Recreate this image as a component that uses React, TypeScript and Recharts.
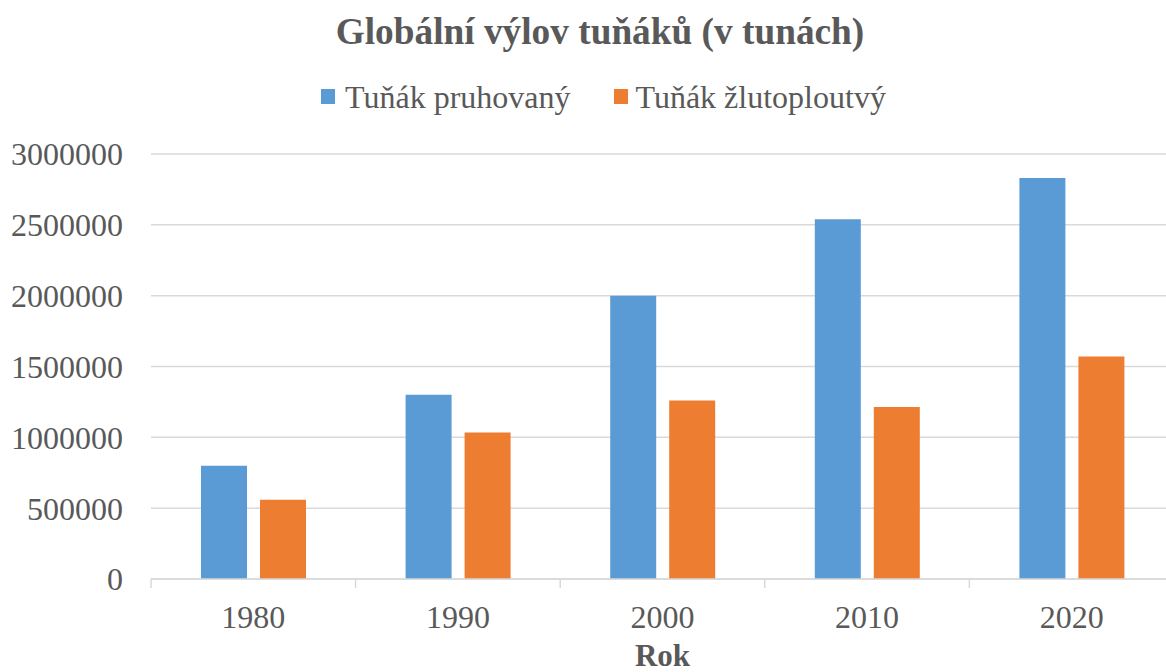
import React from 'react';
import { BarChart, Bar, XAxis, YAxis, CartesianGrid } from 'recharts';

const years = ['1980', '1990', '2000', '2010', '2020'];
const pruhovany = [800000, 1300000, 2000000, 2540000, 2830000];
const zlutoploutvy = [560000, 1035000, 1260000, 1215000, 1570000];
const yTicks = [0, 500000, 1000000, 1500000, 2000000, 2500000, 3000000];
const seriesNames = ['Tuňák pruhovaný', 'Tuňák žlutoploutvý'];
const colors = ['#5B9BD5', '#ED7D31'];
const title = 'Globální výlov tuňáků (v tunách)';
const xLabel = 'Rok';

const data = years.map((y, i) => ({ year: y, a: pruhovany[i], b: zlutoploutvy[i] }));

const FONT = '"Liberation Serif", "Times New Roman", serif';
const TEXT = '#595959';
const GRID = '#d9d9d9';

const XTick = (props: any) => {
  const { x, y, payload, index } = props;
  const off = payload && payload.offset ? payload.offset : 0;
  return (
    <g>
      <line x1={x - off} x2={x - off} y1={y} y2={y + 9} stroke={GRID} strokeWidth={1.5} />
      {index === years.length - 1 && (
        <line x1={x + off} x2={x + off} y1={y} y2={y + 9} stroke={GRID} strokeWidth={1.5} />
      )}
      <text x={x} y={y + 26} dy="0.71em" textAnchor="middle" fill={TEXT} fontSize={32} fontFamily={FONT}>
        {payload.value}
      </text>
    </g>
  );
};

export default function App() {
  return (
    <div style={{ position: 'absolute', left: 0, top: 0, width: 1166, height: 672, overflow: 'hidden', background: '#fff' }}>
      <BarChart
        width={1180}
        height={680}
        data={data}
        margin={{ top: 154, right: 6, bottom: 0, left: 0 }}
        barSize={46}
        barGap={13}
      >
        <CartesianGrid vertical={false} stroke={GRID} strokeWidth={1.5} />
        <XAxis
          dataKey="year"
          height={101}
          axisLine={{ stroke: GRID, strokeWidth: 1.5 }}
          tickLine={false}
          tickSize={0}
          tickMargin={0}
          tick={<XTick />}
          interval={0}
          label={{ value: xLabel, position: 'insideBottom', offset: 14, fill: TEXT, fontSize: 31, fontWeight: 'bold', fontFamily: FONT }}
        />
        <YAxis
          width={151}
          domain={[0, 3000000]}
          ticks={yTicks}
          axisLine={false}
          tickLine={false}
          tickSize={0}
          tickMargin={28}
          interval={0}
          tick={{ fill: TEXT, fontSize: 32, fontFamily: FONT }}
        />
        <Bar dataKey="a" name={seriesNames[0]} fill={colors[0]} isAnimationActive={false} />
        <Bar dataKey="b" name={seriesNames[1]} fill={colors[1]} isAnimationActive={false} />
      </BarChart>
      <div
        style={{
          position: 'absolute', left: 0, top: 13.3, width: 1200, textAlign: 'center',
          fontFamily: FONT, fontWeight: 'bold', fontSize: 37.3, lineHeight: 1, color: TEXT, whiteSpace: 'nowrap',
        }}
      >
        {title}
      </div>
      <div
        style={{
          position: 'absolute', left: 321, top: 80.5, display: 'flex', alignItems: 'center',
          fontFamily: FONT, fontSize: 32, lineHeight: 1, color: TEXT, whiteSpace: 'nowrap', height: 32,
        }}
      >
        {seriesNames.map((n, i) => (
          <div key={n} style={{ display: 'flex', alignItems: 'center', marginRight: i === 0 ? 44 : 0 }}>
            <span style={{ display: 'inline-block', width: 14, height: 15, background: colors[i], marginRight: i === 0 ? 10 : 7 }} />
            <span>{n}</span>
          </div>
        ))}
      </div>
    </div>
  );
}
